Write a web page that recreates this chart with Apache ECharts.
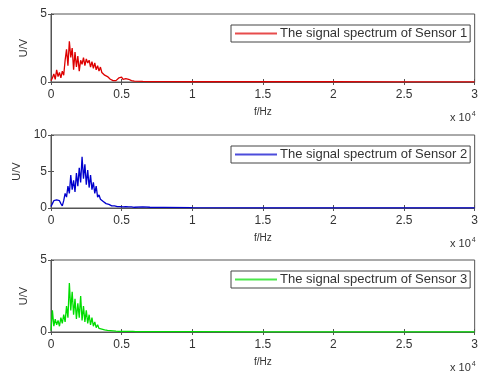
<!DOCTYPE html>
<html>
<head>
<meta charset="utf-8">
<script src="https://cdn.jsdelivr.net/npm/echarts@6/dist/echarts.min.js"></script>
<style>
  html, body { margin: 0; padding: 0; background: #fff; }
  #chart { width: 481px; height: 376px; }
</style>
</head>
<body>
<div id="chart"></div>
<script>
// frequency in units of 10^4 Hz
const freq = [
  0.00, 0.01, 0.02, 0.03, 0.04, 0.05, 0.06, 0.07, 0.08, 0.09,
  0.10, 0.11, 0.12, 0.13, 0.14, 0.15, 0.16, 0.17, 0.18, 0.19,
  0.20, 0.21, 0.22, 0.23, 0.24, 0.25, 0.26, 0.27, 0.28, 0.29,
  0.30, 0.31, 0.32, 0.33, 0.34, 0.35, 0.36, 0.37, 0.38, 0.39,
  0.40, 0.41, 0.42, 0.43, 0.44, 0.45, 0.46, 0.47, 0.48, 0.49,
  0.50, 0.51, 0.52, 0.53, 0.54, 0.55, 0.56, 0.57, 0.58, 0.59,
  0.60, 0.65, 0.70, 0.80, 1.00, 1.50, 2.00, 2.50, 3.00
];
const sensor1 = [
  0.1, 0.3, 0.6, 0.2, 0.9, 0.4, 0.7, 0.3, 0.8, 0.5,
  1.6, 2.4, 1.2, 3.0, 1.8, 2.5, 0.9, 2.2, 1.1, 1.9,
  0.8, 1.6, 1.3, 1.8, 1.2, 1.7, 1.4, 1.6, 1.1, 1.5,
  1.0, 1.4, 0.9, 1.2, 0.8, 1.1, 0.7, 0.8, 0.5, 0.6,
  0.4, 0.35, 0.2, 0.25, 0.1, 0.15, 0.1, 0.2, 0.3, 0.25,
  0.35, 0.2, 0.3, 0.25, 0.3, 0.2, 0.15, 0.1, 0.08, 0.06,
  0.05, 0.04, 0.03, 0.03, 0.02, 0.02, 0.02, 0.01, 0.01
];
const sensor2 = [
  0.2, 0.6, 1.0, 1.2, 1.1, 1.3, 1.0, 0.6, 0.3, 1.0,
  2.0, 1.5, 3.0, 2.0, 4.5, 2.5, 3.8, 2.2, 4.8, 3.0,
  5.5, 3.5, 7.0, 4.0, 6.0, 3.2, 5.2, 2.8, 4.5, 2.5,
  3.5, 2.0, 3.0, 1.5, 1.8, 1.2, 1.4, 0.9, 1.0, 0.6,
  0.8, 0.5, 0.6, 0.3, 0.5, 0.3, 0.4, 0.2, 0.35, 0.2,
  0.3, 0.15, 0.3, 0.2, 0.25, 0.15, 0.25, 0.15, 0.2, 0.1,
  0.2, 0.15, 0.1, 0.08, 0.05, 0.03, 0.02, 0.02, 0.01
];
const sensor3 = [
  0.1, 1.5, 0.4, 0.9, 0.5, 0.8, 0.4, 1.0, 0.6, 1.2,
  0.7, 1.8, 1.0, 3.4, 1.5, 2.8, 1.2, 2.3, 0.9, 2.0,
  1.0, 2.5, 0.8, 1.8, 0.7, 1.5, 0.6, 1.2, 0.5, 1.0,
  0.4, 0.7, 0.3, 0.5, 0.25, 0.35, 0.2, 0.25, 0.15, 0.2,
  0.12, 0.15, 0.1, 0.12, 0.08, 0.1, 0.06, 0.08, 0.05, 0.07,
  0.05, 0.06, 0.04, 0.06, 0.05, 0.04, 0.05, 0.03, 0.04, 0.03,
  0.03, 0.03, 0.02, 0.02, 0.02, 0.01, 0.01, 0.01, 0.01
];
const seriesNames = [
  'The signal spectrum of Sensor 1',
  'The signal spectrum of Sensor 2',
  'The signal spectrum of Sensor 3'
];
const seriesColors = ['#dd0000', '#0000cc', '#00dd00'];
const yMax = [5, 10, 5];

const FONT = 'Liberation Sans, Arial, sans-serif';
const TXT = '#333';
const AXIS = '#555';
const grids = [
  { top: 14, height: 68 },
  { top: 135, height: 73 },
  { top: 260, height: 72 }
];

const chart = echarts.init(document.getElementById('chart'));
const allData = [sensor1, sensor2, sensor3];

const option = {
  animation: false,
  textStyle: { fontFamily: FONT },
  grid: grids.map((g) => ({
    left: 51, right: 3, top: g.top, height: g.height,
    show: true, borderColor: AXIS, borderWidth: 1
  })),
  legend: grids.map((g, i) => ({
    data: [seriesNames[i]],
    left: 231, top: g.top + 11,
    padding: [2, 3, 2, 4],
    itemGap: 0,
    borderColor: '#444', borderWidth: 1,
    icon: 'rect', itemWidth: 42, itemHeight: 2,
    itemStyle: { color: seriesColors[i], opacity: 0.7 },
    textStyle: { fontFamily: FONT, fontSize: 13, color: TXT, padding: [0, 0, 0, -2] }
  })),
  xAxis: [],
  yAxis: [],
  series: [],
  graphic: grids.map((g) => ({
    type: 'text', left: 450, top: g.top + g.height + 29,
    style: {
      text: 'x 10{s|4}',
      font: '11px ' + FONT, fill: TXT,
      rich: { s: { fontSize: 7, verticalAlign: 'top', padding: [0, 0, 6, 1] } }
    }
  }))
};

grids.forEach((g, i) => {
  const xBase = {
    gridIndex: i, type: 'value', min: 0, max: 3, interval: 0.5,
    axisLine: { show: true, lineStyle: { color: AXIS } },
    axisTick: { show: true, inside: true, length: 3, lineStyle: { color: AXIS } },
    splitLine: { show: false }
  };
  option.xAxis.push(Object.assign({}, xBase, {
    position: 'bottom',
    name: 'f/Hz', nameLocation: 'middle', nameGap: 25,
    nameTextStyle: { fontSize: 10, color: TXT, fontFamily: FONT },
    axisLabel: { fontSize: 12, color: TXT, margin: 7, fontFamily: FONT }
  }));
  option.xAxis.push(Object.assign({}, xBase, {
    position: 'top', axisLabel: { show: false }
  }));
  const yBase = {
    gridIndex: i, type: 'value', min: 0, max: yMax[i], interval: 5,
    axisLine: { show: true, lineStyle: { color: AXIS } },
    axisTick: { show: true, inside: true, length: 3, lineStyle: { color: AXIS } },
    splitLine: { show: false }
  };
  option.yAxis.push(Object.assign({}, yBase, {
    position: 'left',
    name: 'U/V', nameLocation: 'middle', nameGap: 17, nameRotate: 90,
    nameTextStyle: { fontSize: 11, color: TXT, fontFamily: FONT },
    axisLabel: { fontSize: 12, color: TXT, margin: 4, fontFamily: FONT }
  }));
  option.yAxis.push(Object.assign({}, yBase, {
    position: 'right', axisLabel: { show: false }
  }));
  option.series.push({
    name: seriesNames[i],
    type: 'line',
    xAxisIndex: i * 2, yAxisIndex: i * 2,
    showSymbol: false,
    lineStyle: { width: 1.3, color: seriesColors[i] },
    itemStyle: { color: seriesColors[i] },
    data: freq.map((f, k) => [f, allData[i][k]])
  });
});

chart.setOption(option);
</script>
</body>
</html>
